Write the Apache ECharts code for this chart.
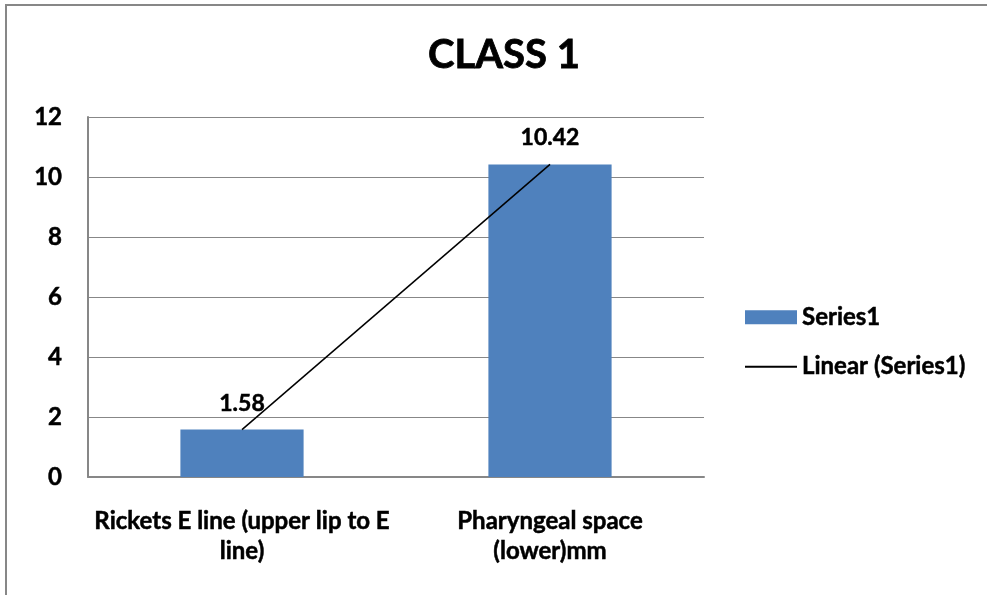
<!DOCTYPE html>
<html>
<head>
<meta charset="utf-8">
<title>CLASS 1</title>
<script src="https://cdn.jsdelivr.net/npm/echarts@6/dist/echarts.min.js"></script>
<style>
  html, body { margin: 0; padding: 0; background: #fff; }
  #chart { width: 987px; height: 595px; }
</style>
</head>
<body>
<div id="chart"></div>
<script>
// Measurements per category
const categories = ['Rickets E line (upper lip to E\nline)', 'Pharyngeal space\n(lower)mm'];
const seriesValues = [1.58, 10.42];
const yTicks = [0, 2, 4, 6, 8, 10, 12];

const seriesName = 'Series1';
const trendName = 'Linear (Series1)';

// Least-squares linear trend over category index 1..n
function linearTrend(values) {
  const n = values.length;
  const xs = values.map((_, i) => i + 1);
  const mx = xs.reduce((a, b) => a + b, 0) / n;
  const my = values.reduce((a, b) => a + b, 0) / n;
  let sxy = 0, sxx = 0;
  for (let i = 0; i < n; i++) {
    sxy += (xs[i] - mx) * (values[i] - my);
    sxx += (xs[i] - mx) * (xs[i] - mx);
  }
  const slope = sxx ? sxy / sxx : 0;
  const icpt = my - slope * mx;
  return xs.map(x => icpt + slope * x);
}
const trendValues = linearTrend(seriesValues);

const FONT = 'Lato';
// shared heavy text style
const heavy = (size, stroke) => ({
  fontFamily: FONT,
  fontWeight: 'bold',
  fontSize: size,
  color: '#000',
  textBorderColor: '#000',
  textBorderWidth: stroke
});

const chart = echarts.init(document.getElementById('chart'), null, { renderer: 'canvas' });

chart.setOption({
  backgroundColor: '#fff',
  animation: false,
  textStyle: { fontFamily: FONT },
  graphic: [{
    type: 'polyline',
    shape: { points: [[6, 700], [6, 5], [1100, 5]] },
    style: { fill: null, stroke: '#878787', lineWidth: 2 },
    silent: true,
    z: -10
  }],
  title: {
    text: 'CLASS 1',
    left: 499,
    top: 30,
    textAlign: 'center',
    textStyle: heavy(40, 0.8)
  },
  legend: {
    orient: 'vertical',
    left: 739,
    top: 300,
    itemWidth: 52,
    itemHeight: 14,
    itemGap: 25,
    textStyle: heavy(24, 0.5),
    data: [
      { name: seriesName, icon: 'rect' },
      { name: trendName, itemStyle: { opacity: 0 } }
    ]
  },
  grid: { left: 88, right: 283, top: 117, bottom: 118, containLabel: false },
  xAxis: {
    type: 'category',
    data: categories,
    axisLine: { show: true, lineStyle: { color: '#878787', width: 2 } },
    axisTick: { show: false },
    axisLabel: Object.assign(heavy(24, 0.5), {
      interval: 0,
      margin: 29,
      lineHeight: 30,
      align: 'center'
    })
  },
  yAxis: {
    type: 'value',
    min: yTicks[0],
    max: yTicks[yTicks.length - 1],
    interval: 2,
    axisLine: { show: true, lineStyle: { color: '#878787', width: 2 } },
    axisTick: { show: false },
    splitLine: { show: true, lineStyle: { color: '#878787', width: 1 } },
    axisLabel: Object.assign(heavy(24, 0.5), {
      margin: 26,
      formatter: v => (yTicks.includes(v) ? String(v) : '')
    })
  },
  series: [
    {
      name: seriesName,
      type: 'bar',
      data: seriesValues,
      barWidth: '40%',
      itemStyle: { color: '#4f81bd' },
      label: Object.assign(heavy(23, 0.5), {
        show: true,
        position: 'top',
        distance: 15,
        formatter: p => p.value.toFixed(2)
      }),
      z: 2
    },
    {
      name: trendName,
      type: 'line',
      data: trendValues,
      symbol: 'none',
      lineStyle: { color: '#000', width: 1.5 },
      z: 3
    }
  ]
});
</script>
</body>
</html>
